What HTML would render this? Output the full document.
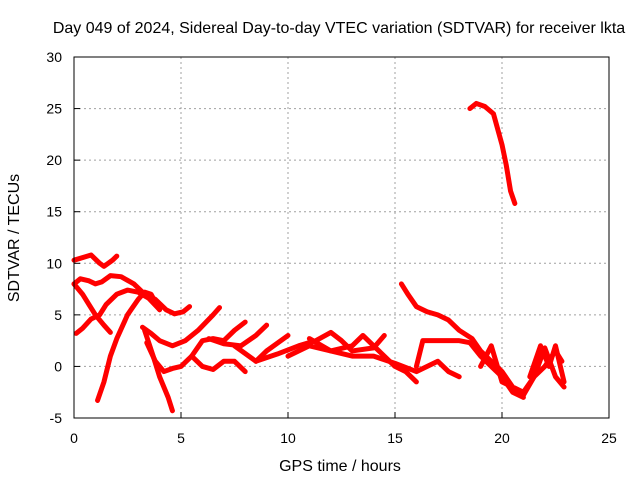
<!DOCTYPE html>
<html><head><meta charset="utf-8"><style>
body{margin:0;background:#fff;}
svg{display:block;font-family:"Liberation Sans",sans-serif;}
</style></head><body>
<svg id="chart" width="640" height="480">
<rect width="640" height="480" fill="#fff"/>
<text x="339" y="33" text-anchor="middle" font-size="16">Day 049 of 2024, Sidereal Day-to-day VTEC variation (SDTVAR) for receiver lkta</text>
<text x="340" y="471" text-anchor="middle" font-size="16">GPS time / hours</text>
<text transform="translate(19,238) rotate(-90)" text-anchor="middle" font-size="16">SDTVAR / TECUs</text>
<g id="grid"></g>
<g id="series"></g>
<rect x="74" y="57" width="535" height="361" fill="none" stroke="#000"/>
</svg>
<script>
const xTicks=[0,5,10,15,20,25];
const yTicks=[-5,0,5,10,15,20,25,30];
const track1=[[0,10.3],[0.8,10.8],[1.2,10],[1.4,9.7],[1.8,10.3],[2,10.7]];
const track2=[[0,8],[0.3,8.5],[0.7,8.3],[1,8],[1.3,8.2],[1.7,8.8],[2.2,8.7],[2.8,8],[3.3,7],[3.8,6.5],[4.3,5.5],[4.7,5.1],[5.1,5.3],[5.4,5.8]];
const track3=[[0,8],[0.4,7],[0.7,6],[1,5],[1.4,4],[1.7,3.3]];
const track4=[[0.1,3.2],[0.4,3.7],[0.8,4.6],[1.2,5],[1.5,6],[2,7],[2.5,7.4],[3,7.2],[3.5,6.6],[4,5.5]];
const track5=[[1.1,-3.3],[1.4,-1.5],[1.7,1],[2,2.7],[2.5,5],[3,6.5],[3.3,7.2],[3.6,7],[4,5.5]];
const track6=[[3.2,3.8],[3.6,3.2],[4,2.5],[4.6,2],[5.2,2.5],[5.8,3.5],[6.5,5],[6.8,5.7]];
const track7=[[3.3,3.5],[3.7,1],[4,-1],[4.4,-3],[4.6,-4.3]];
const track8=[[3.4,2.3],[3.8,0.5],[4.2,-0.5],[4.6,-0.2],[5,0],[5.5,1],[6,2.5],[6.5,2.7],[7,2.5],[7.5,3.5],[8,4.3]];
const track9=[[5.5,1],[6,0],[6.5,-0.3],[7,0.5],[7.5,0.5],[8,-0.5]];
const track10=[[6.3,2.7],[7,2.2],[7.8,2],[8.5,3],[9,4]];
const track11=[[7.5,2],[8.5,0.5],[9,1.5],[10,3]];
const track12=[[8.5,0.5],[9.5,1.2],[10.5,2],[11.3,2.5],[12,3.3],[12.5,2.5],[13,1.5],[14,1.8],[14.5,3]];
const track13=[[10,1],[11,2],[12,1.5],[13,2],[13.5,3],[14,2],[15,0],[15.5,-0.5],[16,-1.5]];
const track14=[[11,2.7],[12,1.5],[13,1],[14,1],[15,0.3],[16,-0.5],[17,0.5],[17.5,-0.5],[18,-1]];
const track15=[[15.3,8],[15.6,7],[16,5.8],[16.5,5.3],[17,5],[17.5,4.5],[18,3.5],[18.6,2.7],[19,1.5],[19.5,0.5],[20,-0.5],[20.5,-2],[21,-2.5],[21.5,-1],[22,0],[22.5,1.5],[22.8,0.5]];
const track16=[[16,0],[16.3,2.5],[17,2.5],[18,2.5],[18.5,2.3],[19,1],[19.5,0],[20,-1],[20.5,-2.5],[21,-3]];
const track17=[[18.5,25],[18.8,25.5],[19.2,25.2],[19.6,24.5],[19.8,23],[20,21.5],[20.2,19.5],[20.4,17],[20.6,15.8]];
const track18=[[19,0],[19.5,2],[20,-1.5],[20.5,-2],[21,-2.8],[21.5,-1],[22,1.8],[22.5,-1],[22.9,-2]];
const track19=[[21.3,-1],[21.8,2],[22.2,0],[22.5,2],[22.9,-1.5]];
const tracks=[track1,track2,track3,track4,track5,track6,track7,track8,track9,track10,track11,track12,track13,track14,track15,track16,track17,track18,track19];
const NS="http://www.w3.org/2000/svg";
const X=v=>74+v*535/25, Y=v=>418-(v+5)*361/35;
const grid=document.getElementById('grid'), ser=document.getElementById('series');
function mk(t,a,p){const e=document.createElementNS(NS,t);for(const k in a)e.setAttribute(k,a[k]);p.appendChild(e);return e;}
xTicks.forEach(t=>{
 const x=X(t);
 if(t>0&&t<25){const g=mk('line',{x1:x,x2:x,y1:57,y2:418,stroke:'#a0a0a0','stroke-dasharray':'2,3'},grid);
 
 }
 const tk=mk('line',{x1:x,x2:x,y1:418,y2:412,stroke:'#000'},grid);
 
 
 const lb=mk('text',{x:x,y:443,'text-anchor':'middle','font-size':'14'},grid);lb.textContent=t;
 
 
});
yTicks.forEach(t=>{
 const y=Y(t);
 if(t>-5&&t<30){const g=mk('line',{x1:74,x2:609,y1:y,y2:y,stroke:'#a0a0a0','stroke-dasharray':'2,3'},grid);
 
 }
 const tk=mk('line',{x1:74,x2:80,y1:y,y2:y,stroke:'#000'},grid);
 
 
 const lb=mk('text',{x:62,y:y+5,'text-anchor':'end','font-size':'14'},grid);lb.textContent=t;
 
 
});
tracks.forEach(tr=>{
 const pl=mk('polyline',{points:tr.map(p=>X(p[0])+','+Y(p[1])).join(' '),fill:'none',stroke:'#ff0000','stroke-width':'5','stroke-linejoin':'round','stroke-linecap':'round'},ser);
 
 
});
</script>
</body></html>
